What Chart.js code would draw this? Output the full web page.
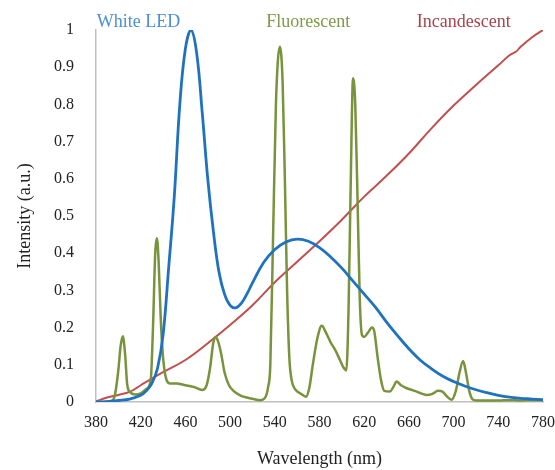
<!DOCTYPE html>
<html>
<head>
<meta charset="utf-8">
<script src="https://cdn.jsdelivr.net/npm/chart.js@4"></script>
<style>
  html, body { margin: 0; padding: 0; background: #fff; }
  #wrap { width: 555px; height: 470px; }
</style>
</head>
<body>
<div id="wrap"><canvas id="spectraChart"></canvas></div>
<script>
// --- Data ---
const ledNm  = [380, 390, 400, 410, 420, 425, 430, 435, 440, 445, 450, 455, 460, 465, 470, 475, 480, 485, 490, 495, 500, 505, 510, 515, 520, 530, 540, 550, 560, 570, 580, 590, 600, 610, 620, 630, 640, 650, 660, 670, 680, 690, 700, 710, 720, 730, 740, 750, 760, 770, 780];
const ledVal = [0, 0.001, 0.004, 0.008, 0.018, 0.03, 0.05, 0.09, 0.18, 0.36, 0.55, 0.8, 0.95, 1.0, 0.94, 0.78, 0.6, 0.46, 0.35, 0.29, 0.26, 0.253, 0.265, 0.29, 0.32, 0.375, 0.41, 0.43, 0.438, 0.432, 0.415, 0.39, 0.36, 0.325, 0.29, 0.255, 0.215, 0.178, 0.143, 0.113, 0.09, 0.07, 0.055, 0.043, 0.033, 0.025, 0.018, 0.013, 0.01, 0.008, 0.006];

const fluoNm  = [380, 394, 397, 400, 402, 404, 406, 408, 411, 415, 420, 425, 429, 431, 433, 434.5, 436, 438, 440, 443, 446, 452, 460, 468, 475, 479, 482, 485, 487, 489, 492, 495, 499, 503, 509, 515, 521, 527, 531, 534, 536, 538.5, 541, 544.5, 547, 549, 551, 553, 555, 558, 563, 568, 571, 574, 578, 582, 586, 590, 594, 598, 601, 604, 606, 608, 610, 612, 614, 616, 618, 620, 623, 627, 629, 632, 635, 638, 643, 646, 649, 653, 658, 663, 667, 672, 676, 681, 686, 690, 694, 698, 702, 705, 708.5, 711, 714, 717, 720, 730, 740, 750, 760, 770, 780];
const fluoVal = [0, 0.003, 0.02, 0.086, 0.15, 0.177, 0.13, 0.045, 0.025, 0.02, 0.023, 0.035, 0.06, 0.2, 0.4, 0.44, 0.38, 0.22, 0.12, 0.06, 0.05, 0.05, 0.045, 0.04, 0.032, 0.045, 0.09, 0.16, 0.175, 0.165, 0.13, 0.08, 0.045, 0.03, 0.018, 0.012, 0.008, 0.005, 0.01, 0.04, 0.1, 0.45, 0.8, 0.955, 0.86, 0.6, 0.3, 0.12, 0.06, 0.035, 0.023, 0.014, 0.04, 0.1, 0.17, 0.205, 0.185, 0.16, 0.14, 0.115, 0.095, 0.085, 0.25, 0.6, 0.87, 0.8, 0.55, 0.28, 0.18, 0.175, 0.185, 0.2, 0.19, 0.12, 0.06, 0.03, 0.028, 0.04, 0.055, 0.045, 0.037, 0.032, 0.028, 0.022, 0.019, 0.022, 0.03, 0.028, 0.015, 0.006, 0.03, 0.075, 0.11, 0.08, 0.03, 0.007, 0.004, 0.004, 0.004, 0.005, 0.004, 0.005, 0.004];

const incNm  = [380, 390, 400, 410, 420, 440, 460, 480, 500, 520, 540, 560, 580, 600, 620, 640, 660, 680, 700, 720, 740, 750, 756, 760, 770, 780];
const incVal = [0.002, 0.012, 0.019, 0.027, 0.045, 0.08, 0.113, 0.158, 0.207, 0.26, 0.322, 0.377, 0.432, 0.49, 0.552, 0.608, 0.668, 0.735, 0.797, 0.852, 0.905, 0.932, 0.942, 0.955, 0.98, 1.0];

const seriesNames = ['White LED', 'Fluorescent', 'Incandescent'];

const toPoints = (xs, ys) => xs.map((x, i) => ({ x: x, y: ys[i] }));

// series names drawn above the plot, in data units (nm, intensity)
const nameSpots = [
    { nm: 418, y: 1.008, color: '#4a8fd8' },
    { nm: 570, y: 1.008, color: '#7f9a4a' },
    { nm: 709, y: 1.008, color: '#a8434b' }
];

const seriesNamePlugin = {
    id: 'seriesNames',
    afterDraw(chart) {
        const { ctx, scales: { x, y } } = chart;
        ctx.save();
        ctx.font = '18px "Liberation Serif", "Times New Roman", serif';
        ctx.textAlign = 'center';
        ctx.textBaseline = 'alphabetic';
        seriesNames.forEach((name, i) => {
            ctx.fillStyle = nameSpots[i].color;
            ctx.fillText(name, x.getPixelForValue(nameSpots[i].nm), y.getPixelForValue(nameSpots[i].y));
        });
        ctx.restore();
    }
};

const serif = '"Liberation Serif", "Times New Roman", serif';
const axisGray = '#bfbfbf';

const ctx = document.getElementById('spectraChart').getContext('2d');
const myChart = new Chart(ctx, {
    type: 'line',
    data: {
        datasets: [
            {
                label: seriesNames[0],
                data: toPoints(ledNm, ledVal),
                borderColor: '#1f72c0',
                borderWidth: 2.8,
                pointRadius: 0,
                tension: 0.4
            },
            {
                label: seriesNames[1],
                data: toPoints(fluoNm, fluoVal),
                borderColor: '#77933c',
                borderWidth: 2.5,
                pointRadius: 0,
                cubicInterpolationMode: 'monotone'
            },
            {
                label: seriesNames[2],
                data: toPoints(incNm, incVal),
                borderColor: '#c0504d',
                borderWidth: 2,
                pointRadius: 0,
                tension: 0.4
            }
        ]
    },
    options: {
        responsive: true,
        maintainAspectRatio: false,
        animation: false,
        layout: { padding: { left: 10, right: 0, top: 30, bottom: 0 } },
        plugins: {
            legend: { display: false },
            tooltip: { enabled: false }
        },
        scales: {
            x: {
                type: 'linear',
                min: 380,
                max: 780,
                grid: { display: false },
                border: { display: true, color: axisGray, width: 1.5 },
                ticks: {
                    stepSize: 40,
                    color: '#222',
                    padding: 3,
                    font: { family: serif, size: 16 }
                },
                title: {
                    display: true,
                    text: 'Wavelength (nm)',
                    color: '#222',
                    font: { family: serif, size: 18 },
                    padding: { top: 4, bottom: 0 }
                },
                afterFit(scale) {
                    scale.height = 68;
                    scale.paddingRight = 12;
                }
            },
            y: {
                min: 0,
                max: 1,
                grid: { display: false },
                border: { display: true, color: axisGray, width: 1.5 },
                ticks: {
                    stepSize: 0.1,
                    color: '#222',
                    padding: 14,
                    font: { family: serif, size: 16 },
                    callback: (v) => String(Math.round(v * 10) / 10)
                },
                title: {
                    display: true,
                    text: 'Intensity (a.u.)',
                    color: '#222',
                    font: { family: serif, size: 18 },
                    padding: { bottom: 0 }
                },
                afterFit(scale) { scale.width = 86; }
            }
        }
    },
    plugins: [seriesNamePlugin]
});
</script>
</body>
</html>
